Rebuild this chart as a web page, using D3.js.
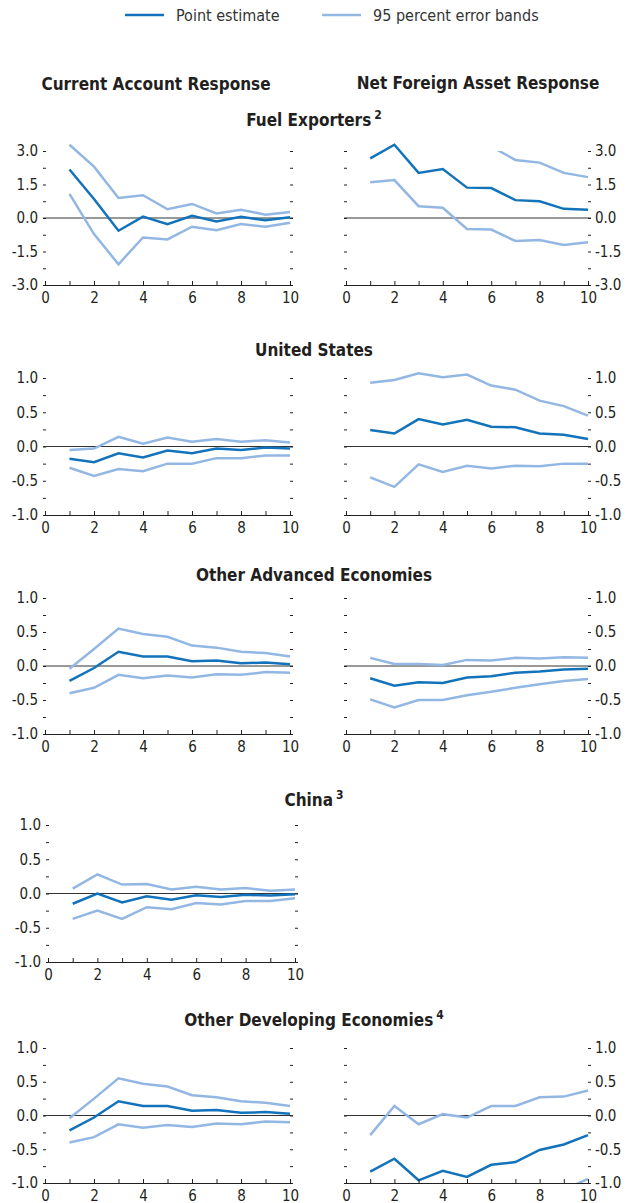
<!DOCTYPE html>
<html>
    <head>
        <meta charset="utf-8">
        <title>Current Account and Net Foreign Asset Responses</title>
        <script src="https://cdnjs.cloudflare.com/ajax/libs/d3/7.8.5/d3.min.js"></script>
        <style>
            body { margin: 0; background: #fff; }
            text { font-family: "Liberation Sans Narrow", "DejaVu Sans Condensed", "Roboto Condensed", Roboto, sans-serif; fill: #231f20; }
            .title { font-weight: bold; font-size: 17px; }
            .tick text { font-size: 15px; }
        </style>
    </head>
    <body>
        <script>

            // years after the shock
            var years = [1, 2, 3, 4, 5, 6, 7, 8, 9, 10];

            // Fuel exporters
            var fuelCaPoint = [2.17, 0.85, -0.57, 0.06, -0.28, 0.10, -0.16, 0.05, -0.10, 0.03];
            var fuelCaUpper = [3.28, 2.30, 0.90, 1.02, 0.39, 0.63, 0.20, 0.37, 0.15, 0.27];
            var fuelCaLower = [1.08, -0.72, -2.07, -0.87, -0.96, -0.39, -0.55, -0.27, -0.39, -0.21];
            var fuelNfaPoint = [2.67, 3.28, 2.02, 2.19, 1.36, 1.34, 0.80, 0.75, 0.41, 0.37];
            var fuelNfaUpper = [4.2, 4.8, 3.9, 4.0, 3.5, 3.2, 2.60, 2.48, 2.02, 1.83];
            var fuelNfaLower = [1.60, 1.70, 0.53, 0.46, -0.49, -0.52, -1.03, -0.99, -1.21, -1.09];

            // United States
            var usCaPoint = [-0.18, -0.23, -0.10, -0.16, -0.06, -0.10, -0.03, -0.05, -0.015, -0.03];
            var usCaUpper = [-0.05, -0.03, 0.14, 0.04, 0.13, 0.07, 0.11, 0.07, 0.09, 0.06];
            var usCaLower = [-0.31, -0.43, -0.33, -0.36, -0.25, -0.25, -0.17, -0.17, -0.13, -0.13];
            var usNfaPoint = [0.24, 0.19, 0.40, 0.32, 0.39, 0.29, 0.28, 0.19, 0.17, 0.11];
            var usNfaUpper = [0.93, 0.97, 1.07, 1.01, 1.05, 0.89, 0.83, 0.67, 0.59, 0.45];
            var usNfaLower = [-0.45, -0.59, -0.26, -0.37, -0.28, -0.32, -0.28, -0.29, -0.25, -0.25];

            // Other advanced economies
            var oaeCaPoint = [-0.22, -0.03, 0.21, 0.14, 0.14, 0.07, 0.08, 0.04, 0.05, 0.025];
            var oaeCaUpper = [-0.04, 0.25, 0.55, 0.47, 0.43, 0.30, 0.27, 0.21, 0.19, 0.14];
            var oaeCaLower = [-0.40, -0.32, -0.13, -0.18, -0.14, -0.17, -0.12, -0.13, -0.09, -0.10];
            var oaeNfaPoint = [-0.18, -0.29, -0.24, -0.25, -0.17, -0.15, -0.10, -0.08, -0.05, -0.04];
            var oaeNfaUpper = [0.12, 0.03, 0.03, 0.015, 0.09, 0.08, 0.12, 0.11, 0.13, 0.12];
            var oaeNfaLower = [-0.49, -0.61, -0.50, -0.50, -0.43, -0.38, -0.32, -0.27, -0.22, -0.19];

            // China
            var chnCaPoint = [-0.15, 0.0, -0.13, -0.04, -0.09, -0.025, -0.05, -0.02, -0.03, -0.01];
            var chnCaUpper = [0.07, 0.28, 0.13, 0.14, 0.06, 0.10, 0.06, 0.08, 0.04, 0.06];
            var chnCaLower = [-0.37, -0.25, -0.37, -0.20, -0.23, -0.14, -0.16, -0.11, -0.11, -0.07];

            // Other developing economies
            var odeCaPoint = [-0.22, -0.03, 0.21, 0.14, 0.14, 0.07, 0.08, 0.04, 0.05, 0.025];
            var odeCaUpper = [-0.04, 0.25, 0.55, 0.47, 0.43, 0.30, 0.27, 0.21, 0.19, 0.14];
            var odeCaLower = [-0.40, -0.32, -0.13, -0.18, -0.14, -0.17, -0.12, -0.13, -0.09, -0.10];
            var odeNfaPoint = [-0.83, -0.64, -0.96, -0.82, -0.91, -0.73, -0.69, -0.51, -0.43, -0.29];
            var odeNfaUpper = [-0.29, 0.14, -0.13, 0.02, -0.03, 0.14, 0.14, 0.27, 0.28, 0.37];
            var odeNfaLower = [-1.40, -1.20, -1.50, -1.40, -1.50, -1.30, -1.25, -1.16, -1.10, -0.94];

            var xTicks = [0, 1, 2, 3, 4, 5, 6, 7, 8, 9, 10];
            var bigTicks = d3.range(-3, 3.01, 0.75);
            var smallTicks = d3.range(-1, 1.01, 0.25);

            var darkBlue = "#1273bb";
            var lightBlue = "#93b7e3";

            var width = 628;
            var height = 1203;

            var svg = d3.select("body")
                    .append("svg")
                    .attr("width", width)
                    .attr("height", height);

            // legend
            var legend = [
              {label: "Point estimate", color: darkBlue, x: 125},
              {label: "95 percent error bands", color: lightBlue, x: 322}
            ];
            legend.forEach(function(d) {
              svg.append("line")
                      .attr("x1", d.x).attr("x2", d.x + 39)
                      .attr("y1", 15).attr("y2", 15)
                      .attr("stroke", d.color)
                      .attr("stroke-width", 2.5);
              svg.append("text")
                      .attr("x", d.x + 51)
                      .attr("y", 21)
                      .style("font-size", "16px")
                      .style("fill", "#333")
                      .text(d.label);
            });

            // column headers
            svg.append("text").attr("class", "title")
                    .attr("x", 156).attr("y", 90)
                    .attr("text-anchor", "middle")
                    .text("Current Account Response");
            svg.append("text").attr("class", "title")
                    .attr("x", 478).attr("y", 89)
                    .attr("text-anchor", "middle")
                    .text("Net Foreign Asset Response");

            function rowTitle(name, note, y) {
              var t = svg.append("text").attr("class", "title")
                      .attr("x", 314).attr("y", y)
                      .attr("text-anchor", "middle");
              t.append("tspan").text(name);
              if (note) {
                t.append("tspan")
                        .attr("dx", 3)
                        .attr("dy", -7)
                        .style("font-size", "12px")
                        .text(note);
              }
            }

            var clipId = 0;

            function panel(opts) {
              var x = d3.scaleLinear().domain([0, 10]).range([opts.x0, opts.x1]);
              var y = d3.scaleLinear().domain(opts.domain).range([opts.bottom, opts.top]);
              var step = opts.domain[1] / 2;
              var fmt = function(d) {
                if (Math.abs(d / step - Math.round(d / step)) > 1e-6) return "";
                return d3.format(".1f")(d).replace("\u2212", "-");
              };
              var blank = function() { return ""; };
              var g = svg.append("g");
              var left = opts.x0 - 2;
              var right = opts.x1 + 3;

              // y tick dashes on both sides, labels on the outer side
              var axL = g.append("g")
                      .attr("transform", "translate(" + (left + 3) + ",0)")
                      .call(d3.axisLeft(y).tickValues(opts.ticks).tickSize(3).tickPadding(5)
                              .tickFormat(opts.side === "left" ? fmt : blank));
              var axR = g.append("g")
                      .attr("transform", "translate(" + (right - 3) + ",0)")
                      .call(d3.axisRight(y).tickValues(opts.ticks).tickSize(3).tickPadding(4)
                              .tickFormat(opts.side === "right" ? fmt : blank));
              [axL, axR].forEach(function(a) {
                a.select(".domain").remove();
                a.selectAll(".tick line").attr("stroke", "#231f20");
              });

              // zero line
              g.append("line")
                      .attr("x1", left).attr("x2", right)
                      .attr("y1", y(0)).attr("y2", y(0))
                      .attr("stroke", "#333")
                      .attr("stroke-width", 1);

              // error bands are cut at the top/bottom of the box, point estimate is not
              clipId++;
              var pad = opts.clipPad || 0;
              svg.append("clipPath").attr("id", "clip" + clipId)
                      .append("rect")
                      .attr("x", left).attr("y", opts.top - pad)
                      .attr("width", right - left).attr("height", opts.bottom - opts.top + pad);
              var line = d3.line()
                      .x(function(d, i) { return x(years[i]); })
                      .y(function(d) { return y(d); });
              var bands = g.append("g").attr("clip-path", "url(#clip" + clipId + ")");
              [opts.upper, opts.lower].forEach(function(s) {
                bands.append("path")
                        .attr("d", line(s))
                        .attr("fill", "none")
                        .attr("stroke", lightBlue)
                        .attr("stroke-width", 2.5);
              });
              g.append("path")
                      .attr("d", line(opts.point))
                      .attr("fill", "none")
                      .attr("stroke", darkBlue)
                      .attr("stroke-width", 2.5);

              // x axis
              var axB = g.append("g")
                      .attr("transform", "translate(0," + opts.bottom + ")")
                      .call(d3.axisBottom(x).tickValues(xTicks).tickSizeInner(-4).tickSizeOuter(0).tickPadding(7)
                              .tickFormat(function(d) { return d % 2 === 0 ? d : ""; }));
              axB.select(".domain")
                      .attr("d", "M" + left + ",0.5H" + right)
                      .attr("stroke", "#231f20");
              axB.selectAll(".tick line").attr("stroke", "#231f20");
              axB.selectAll(".tick text").attr("dy", "0.71em");
            }

            var leftCol = {x0: 45, x1: 290, side: "left", clipPad: 8};
            var rightCol = {x0: 346, x1: 588, side: "right", clipPad: 8};

            rowTitle("Fuel Exporters", "2", 126);
            panel(Object.assign({}, leftCol, {top: 151, bottom: 285, domain: [-3, 3], ticks: bigTicks,
              point: fuelCaPoint, upper: fuelCaUpper, lower: fuelCaLower}));
            panel(Object.assign({}, rightCol, {top: 151, bottom: 285, domain: [-3, 3], ticks: bigTicks, clipPad: 0,
              point: fuelNfaPoint, upper: fuelNfaUpper, lower: fuelNfaLower}));

            rowTitle("United States", null, 356);
            panel(Object.assign({}, leftCol, {top: 378, bottom: 515, domain: [-1, 1], ticks: smallTicks,
              point: usCaPoint, upper: usCaUpper, lower: usCaLower}));
            panel(Object.assign({}, rightCol, {top: 378, bottom: 515, domain: [-1, 1], ticks: smallTicks,
              point: usNfaPoint, upper: usNfaUpper, lower: usNfaLower}));

            rowTitle("Other Advanced Economies", null, 581);
            panel(Object.assign({}, leftCol, {top: 598, bottom: 734, domain: [-1, 1], ticks: smallTicks,
              point: oaeCaPoint, upper: oaeCaUpper, lower: oaeCaLower}));
            panel(Object.assign({}, rightCol, {top: 598, bottom: 734, domain: [-1, 1], ticks: smallTicks,
              point: oaeNfaPoint, upper: oaeNfaUpper, lower: oaeNfaLower}));

            rowTitle("China", "3", 806);
            panel({x0: 48, x1: 295, side: "left", clipPad: 8, top: 825, bottom: 962, domain: [-1, 1], ticks: smallTicks,
              point: chnCaPoint, upper: chnCaUpper, lower: chnCaLower});

            rowTitle("Other Developing Economies", "4", 1026);
            panel(Object.assign({}, leftCol, {top: 1048, bottom: 1183, domain: [-1, 1], ticks: smallTicks,
              point: odeCaPoint, upper: odeCaUpper, lower: odeCaLower}));
            panel(Object.assign({}, rightCol, {top: 1048, bottom: 1183, domain: [-1, 1], ticks: smallTicks,
              point: odeNfaPoint, upper: odeNfaUpper, lower: odeNfaLower}));

        </script>
    </body>
</html>
